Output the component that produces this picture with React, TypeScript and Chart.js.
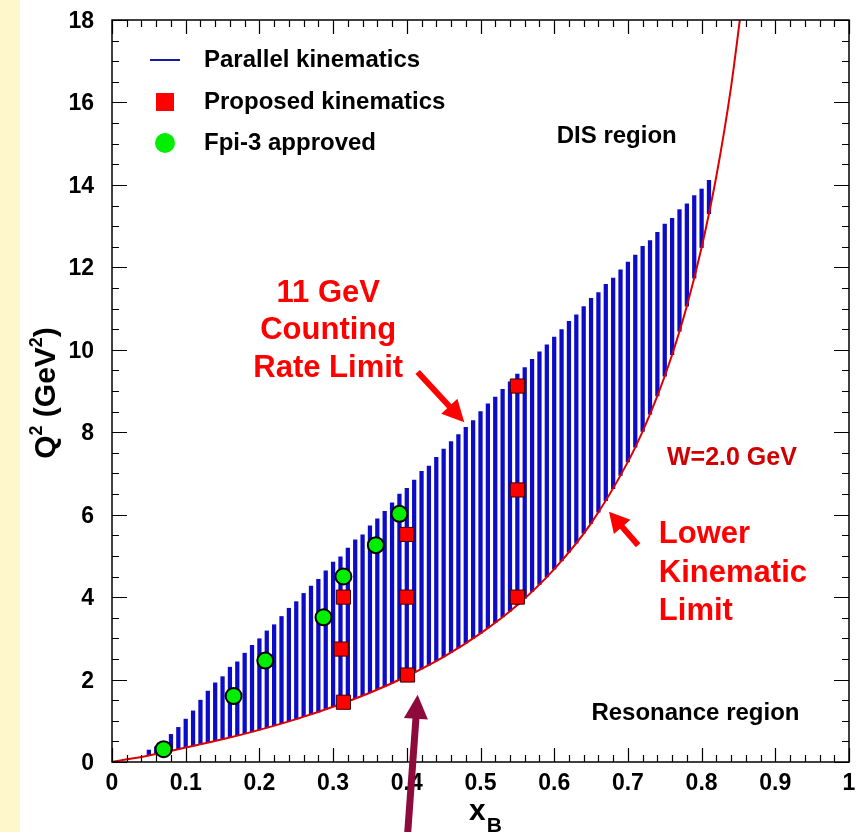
import { useEffect, useRef } from 'react';
import { Chart, registerables } from 'chart.js';

Chart.register(...registerables);

// ---- data ----
const hatchX = [
  0.05, 0.06, 0.07, 0.08, 0.09, 0.10, 0.11, 0.12, 0.13, 0.14,
  0.15, 0.16, 0.17, 0.18, 0.19, 0.20, 0.21, 0.22, 0.23, 0.24,
  0.25, 0.26, 0.27, 0.28, 0.29, 0.30, 0.31, 0.32, 0.33, 0.34,
  0.35, 0.36, 0.37, 0.38, 0.39, 0.40, 0.41, 0.42, 0.43, 0.44,
  0.45, 0.46, 0.47, 0.48, 0.49, 0.50, 0.51, 0.52, 0.53, 0.54,
  0.55, 0.56, 0.57, 0.58, 0.59, 0.60, 0.61, 0.62, 0.63, 0.64,
  0.65, 0.66, 0.67, 0.68, 0.69, 0.70, 0.71, 0.72, 0.73, 0.74,
  0.75, 0.76, 0.77, 0.78, 0.79, 0.80, 0.81,
];
const hatchTop = [
  0.29, 0.37, 0.50, 0.67, 0.84, 1.04, 1.24, 1.50, 1.72, 1.92,
  2.07, 2.30, 2.43, 2.64, 2.83, 2.99, 3.18, 3.33, 3.53, 3.73,
  3.89, 4.09, 4.27, 4.43, 4.64, 4.85, 4.98, 5.19, 5.39, 5.51,
  5.73, 5.90, 6.08, 6.29, 6.50, 6.64, 6.84, 7.05, 7.18, 7.39,
  7.59, 7.77, 7.94, 8.12, 8.28, 8.50, 8.69, 8.85, 9.04, 9.22,
  9.41, 9.57, 9.77, 9.95, 10.12, 10.31, 10.49, 10.69, 10.85, 11.05,
  11.25, 11.39, 11.59, 11.74, 11.94, 12.13, 12.30, 12.51, 12.65, 12.85,
  13.05, 13.19, 13.40, 13.54, 13.74, 13.90, 14.11,
];
const hatchBottom = [
  0.16, 0.20, 0.23, 0.27, 0.31, 0.35, 0.39, 0.43, 0.47, 0.51,
  0.55, 0.59, 0.64, 0.69, 0.73, 0.78, 0.83, 0.88, 0.93, 0.99,
  1.04, 1.10, 1.15, 1.21, 1.27, 1.34, 1.40, 1.47, 1.54, 1.61,
  1.68, 1.76, 1.83, 1.91, 1.99, 2.08, 2.17, 2.26, 2.35, 2.45,
  2.55, 2.66, 2.77, 2.88, 3.00, 3.12, 3.25, 3.38, 3.52, 3.66,
  3.81, 3.97, 4.14, 4.31, 4.49, 4.68, 4.88, 5.09, 5.31, 5.55,
  5.79, 6.06, 6.34, 6.63, 6.95, 7.28, 7.64, 8.02, 8.44, 8.88,
  9.36, 9.88, 10.45, 11.06, 11.74, 12.48, 13.30,
];

// W = 2.0 GeV lower kinematic limit
const limitX = [0, 0.05, 0.1, 0.15, 0.2, 0.25, 0.3, 0.35, 0.4, 0.45, 0.5, 0.55, 0.6, 0.65, 0.7, 0.72, 0.74, 0.76, 0.78, 0.8, 0.82, 0.84, 0.86];
const limitQ2 = [0, 0.16, 0.35, 0.55, 0.78, 1.04, 1.34, 1.68, 2.08, 2.55, 3.12, 3.81, 4.68, 5.79, 7.28, 8.02, 8.88, 9.88, 11.06, 12.48, 14.21, 16.38, 19.17];

const proposedX = [0.314, 0.311, 0.314, 0.401, 0.400, 0.400, 0.550, 0.550, 0.550];
const proposedQ2 = [1.45, 2.74, 4.00, 2.11, 4.00, 5.52, 4.00, 6.60, 9.12];

const approvedX = [0.070, 0.165, 0.208, 0.287, 0.314, 0.358, 0.390];
const approvedQ2 = [0.31, 1.60, 2.46, 3.51, 4.50, 5.26, 6.02];

const xTicks = [0, 0.1, 0.2, 0.3, 0.4, 0.5, 0.6, 0.7, 0.8, 0.9, 1];
const xTickLabels = ['0', '0.1', '0.2', '0.3', '0.4', '0.5', '0.6', '0.7', '0.8', '0.9', '1'];
const yTicks = [0, 2, 4, 6, 8, 10, 12, 14, 16, 18];
const yTickLabels = ['0', '2', '4', '6', '8', '10', '12', '14', '16', '18'];

const legendLabels = ['Parallel kinematics', 'Proposed kinematics', 'Fpi-3 approved'];

// annotations (data coordinates)
const rateLimitText = ['11 GeV', 'Counting', 'Rate Limit'];
const rateLimitPos = { x: 0.2934, y: [11.16, 10.26, 9.34] };
const lowerLimitText = ['Lower', 'Kinematic', 'Limit'];
const lowerLimitPos = { x: 0.7420, y: [5.31, 4.37, 3.445] };
const wText = 'W=2.0 GeV';
const wPos = { x: 0.7530, y: 7.2 };
const disText = 'DIS region';
const disPos = { x: 0.6034, y: 15.02 };
const resText = 'Resonance region';
const resPos = { x: 0.6505, y: 1.02 };

const arrowRate = { from: [0.4147, 9.46], to: [0.478, 8.24] };
const arrowLower = { from: [0.7139, 5.26], to: [0.6744, 6.07] };
const arrowPoint = { from: [0.4012, -1.72], to: [0.4147, 1.63] };

const FONT = '"Liberation Sans", Arial, Helvetica, sans-serif';

function drawArrow(ctx: CanvasRenderingContext2D, x1: number, y1: number, x2: number, y2: number, color: string, shaftW: number, headL: number, headW: number) {
  const ang = Math.atan2(y2 - y1, x2 - x1);
  const bx = x2 - headL * Math.cos(ang);
  const by = y2 - headL * Math.sin(ang);
  ctx.strokeStyle = color;
  ctx.lineWidth = shaftW;
  ctx.lineCap = 'butt';
  ctx.beginPath();
  ctx.moveTo(x1, y1);
  ctx.lineTo(bx + Math.cos(ang), by + Math.sin(ang));
  ctx.stroke();
  ctx.fillStyle = color;
  ctx.beginPath();
  ctx.moveTo(x2, y2);
  ctx.lineTo(bx + headW * Math.sin(ang), by - headW * Math.cos(ang));
  ctx.lineTo(bx - headW * Math.sin(ang), by + headW * Math.cos(ang));
  ctx.closePath();
  ctx.fill();
}

const decorPlugin = {
  id: 'rootDecor',
  afterDraw(chart: any) {
    const { ctx, chartArea: a, scales } = chart;
    const xs = scales.x;
    const ys = scales.y;
    const px = (v: number) => xs.getPixelForValue(v);
    const py = (v: number) => ys.getPixelForValue(v);
    ctx.save();

    // frame
    ctx.strokeStyle = '#000';
    ctx.lineWidth = 1.5;
    ctx.strokeRect(a.left, a.top, a.right - a.left, a.bottom - a.top);

    // ticks (inside, ROOT style)
    ctx.lineWidth = 1.2;
    ctx.beginPath();
    for (let i = 0; i <= 50; i++) {
      const X = Math.round(px(i * 0.02)) + 0.5;
      const len = i % 5 === 0 ? 14 : 7;
      ctx.moveTo(X, a.bottom); ctx.lineTo(X, a.bottom - len);
      ctx.moveTo(X, a.top); ctx.lineTo(X, a.top + len);
    }
    for (let i = 0; i <= 36; i++) {
      const Y = Math.round(py(i * 0.5)) + 0.5;
      const len = i % 4 === 0 ? 15 : 7;
      ctx.moveTo(a.left, Y); ctx.lineTo(a.left + len, Y);
      ctx.moveTo(a.right, Y); ctx.lineTo(a.right - len, Y);
    }
    ctx.stroke();

    // tick labels
    ctx.fillStyle = '#000';
    ctx.font = `bold 23px ${FONT}`;
    ctx.textBaseline = 'alphabetic';
    ctx.textAlign = 'center';
    xTicks.forEach((v, i) => ctx.fillText(xTickLabels[i], px(v), a.bottom + 28));
    ctx.textAlign = 'right';
    yTicks.forEach((v, i) => ctx.fillText(yTickLabels[i], a.left - 18, py(v) + 8));

    // x axis title
    ctx.textAlign = 'left';
    ctx.font = `bold 30px ${FONT}`;
    ctx.fillText('x', 469, a.bottom + 58);
    const xw = ctx.measureText('x').width;
    ctx.font = `bold 21px ${FONT}`;
    ctx.fillText('B', 469 + xw + 1, a.bottom + 70);

    // y axis title (rotated)
    ctx.save();
    ctx.translate(55, (a.top + a.bottom) / 2 + 2);
    ctx.rotate(-Math.PI / 2);
    const parts: [string, number, number][] = [['Q', 30, 0], ['2', 18, -13], [' (GeV', 30, 0], ['2', 18, -13], [')', 30, 0]];
    let total = 0;
    parts.forEach(([t, s]) => { ctx.font = `bold ${s}px ${FONT}`; total += ctx.measureText(t).width; });
    let cx = -total / 2;
    ctx.textAlign = 'left';
    parts.forEach(([t, s, dy]) => {
      ctx.font = `bold ${s}px ${FONT}`;
      ctx.fillText(t, cx, dy);
      cx += ctx.measureText(t).width;
    });
    ctx.restore();

    // legend
    const lx = a.left + 53;
    ctx.strokeStyle = '#1a1a9e';
    ctx.lineWidth = 2;
    ctx.beginPath();
    ctx.moveTo(lx - 15, a.top + 40); ctx.lineTo(lx + 15, a.top + 40);
    ctx.stroke();
    ctx.fillStyle = '#ff0000';
    ctx.fillRect(lx - 9, a.top + 73, 18, 18);
    ctx.fillStyle = '#00ee00';
    ctx.beginPath();
    ctx.arc(lx, a.top + 123, 10, 0, Math.PI * 2);
    ctx.fill();
    ctx.fillStyle = '#000';
    ctx.font = `bold 24px ${FONT}`;
    ctx.textAlign = 'left';
    legendLabels.forEach((t, i) => ctx.fillText(t, a.left + 92, a.top + 47 + i * 41.5));

    // region labels
    ctx.fillText(disText, px(disPos.x), py(disPos.y));
    ctx.fillText(resText, px(resPos.x), py(resPos.y));

    // red annotations
    ctx.fillStyle = '#ff0000';
    ctx.font = `bold 31px ${FONT}`;
    ctx.textAlign = 'center';
    rateLimitText.forEach((t, i) => ctx.fillText(t, px(rateLimitPos.x), py(rateLimitPos.y[i])));
    ctx.textAlign = 'left';
    lowerLimitText.forEach((t, i) => ctx.fillText(t, px(lowerLimitPos.x), py(lowerLimitPos.y[i])));
    ctx.fillStyle = '#d00000';
    ctx.font = `bold 25px ${FONT}`;
    ctx.fillText(wText, px(wPos.x), py(wPos.y));

    // arrows
    drawArrow(ctx, px(arrowRate.from[0]), py(arrowRate.from[1]), px(arrowRate.to[0]), py(arrowRate.to[1]), '#ff0000', 6, 22, 11);
    drawArrow(ctx, px(arrowLower.from[0]), py(arrowLower.from[1]), px(arrowLower.to[0]), py(arrowLower.to[1]), '#ff0000', 6, 20, 11);
    drawArrow(ctx, px(arrowPoint.from[0]), py(arrowPoint.from[1]), px(arrowPoint.to[0]), py(arrowPoint.to[1]), '#8e0a3c', 7, 24, 12);

    ctx.restore();
  },
};

export default function App() {
  const ref = useRef<HTMLCanvasElement | null>(null);
  useEffect(() => {
    if (!ref.current) return;
    const chart = new Chart(ref.current, {
      type: 'bar',
      data: {
        datasets: [
          {
            type: 'scatter',
            label: 'Fpi-3 approved',
            data: approvedX.map((v, i) => ({ x: v, y: approvedQ2[i] })),
            pointStyle: 'circle',
            pointRadius: 8,
            backgroundColor: '#00ee00',
            borderColor: '#000000',
            borderWidth: 2,
            order: 1,
          } as any,
          {
            type: 'scatter',
            label: 'Proposed kinematics',
            data: proposedX.map((v, i) => ({ x: v, y: proposedQ2[i] })),
            pointStyle: 'rect',
            pointRadius: 10,
            backgroundColor: '#ff0000',
            borderColor: '#3a0000',
            borderWidth: 1,
            order: 2,
          } as any,
          {
            type: 'line',
            label: 'W=2.0 GeV',
            data: limitX.map((v, i) => ({ x: v, y: limitQ2[i] })),
            borderColor: '#dd0000',
            borderWidth: 2,
            pointRadius: 0,
            cubicInterpolationMode: 'monotone',
            fill: false,
            order: 3,
          } as any,
          {
            type: 'bar',
            label: 'Parallel kinematics',
            data: hatchX.map((v, i) => ({ x: v, y: [hatchBottom[i], hatchTop[i]] })),
            backgroundColor: '#0c0cc8',
            borderWidth: 0,
            barThickness: 3.6,
            grouped: false,
            order: 4,
          } as any,
        ],
      },
      options: {
        animation: false,
        responsive: true,
        maintainAspectRatio: false,
        layout: { padding: { top: 20, right: 6, left: 0, bottom: 0 } },
        plugins: { legend: { display: false }, tooltip: { enabled: false }, title: { display: false } },
        scales: {
          x: {
            type: 'linear',
            min: 0,
            max: 1,
            offset: false,
            grid: { display: false, offset: false },
            border: { display: false },
            ticks: { display: false, stepSize: 0.1 },
            afterFit: (s: any) => { s.height = 70; },
          },
          y: {
            type: 'linear',
            min: 0,
            max: 18,
            beginAtZero: true,
            grid: { display: false },
            border: { display: false },
            ticks: { display: false, stepSize: 2 },
            afterFit: (s: any) => { s.width = 112; },
          },
        },
      } as any,
      plugins: [decorPlugin],
    });
    return () => chart.destroy();
  }, []);

  return (
    <div style={{ position: 'fixed', left: 0, top: 0, width: 860, height: 832, background: '#ffffff' }}>
      <div style={{ position: 'absolute', left: 0, top: 0, width: 20, height: 832, background: '#fff7cc' }} />
      <div style={{ position: 'absolute', left: 0, top: 0, width: 860, height: 832 }}>
        <canvas ref={ref} />
      </div>
    </div>
  );
}
